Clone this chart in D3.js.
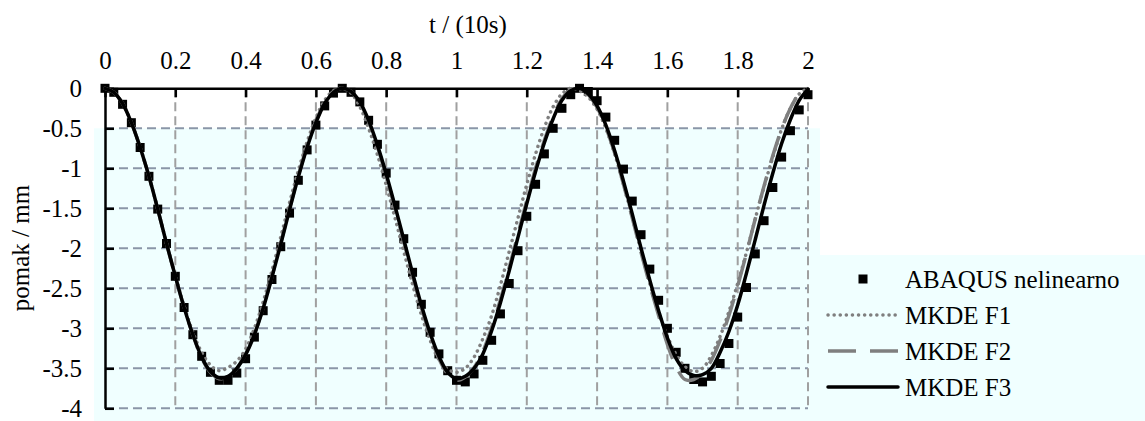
<!DOCTYPE html>
<html><head><meta charset="utf-8">
<script src="https://cdn.jsdelivr.net/npm/d3@7"></script>
<style>
body{margin:0;background:#fff}
svg{display:block}
svg text{font-family:'Liberation Serif','Times New Roman',Tinos,Times,'DejaVu Serif','Noto Serif',serif;fill:#000}
</style>
</head><body><svg id="c" width="1145" height="421"></svg>
<script>
const time = [0,0.025,0.05,0.075,0.1,0.125,0.15,0.175,0.2,0.225,0.25,0.275,0.3,0.325,0.35,0.375,0.4,0.425,0.45,0.475,
0.5,0.525,0.55,0.575,0.6,0.625,0.65,0.675,0.7,0.725,0.75,0.775,0.8,0.825,0.85,0.875,0.9,0.925,0.95,0.975,
1.0,1.025,1.05,1.075,1.1,1.125,1.15,1.175,1.2,1.225,1.25,1.275,1.3,1.325,1.35,1.375,1.4,1.425,1.45,1.475,
1.5,1.525,1.55,1.575,1.6,1.625,1.65,1.675,1.7,1.725,1.75,1.775,1.8,1.825,1.85,1.875,1.9,1.925,1.95,1.975,2.0];

const abaqus = [0,-0.05,-0.2,-0.43,-0.74,-1.1,-1.51,-1.94,-2.35,-2.74,-3.08,-3.35,-3.55,-3.65,-3.65,-3.56,-3.38,-3.11,-2.78,-2.39,
-1.98,-1.56,-1.15,-0.77,-0.46,-0.22,-0.06,0,-0.05,-0.17,-0.40,-0.70,-1.06,-1.46,-1.88,-2.30,-2.70,-3.05,-3.32,-3.53,
-3.65,-3.67,-3.57,-3.40,-3.15,-2.82,-2.44,-2.03,-1.60,-1.20,-0.82,-0.50,-0.25,-0.08,0,-0.04,-0.155,-0.36,-0.65,-1.01,
-1.41,-1.83,-2.26,-2.65,-3.0,-3.3,-3.5,-3.64,-3.67,-3.6,-3.44,-3.19,-2.86,-2.49,-2.07,-1.655,-1.24,-0.86,-0.53,-0.27,-0.08];

const mkdeF1 = [0,-0.05,-0.19,-0.43,-0.74,-1.1,-1.51,-1.94,-2.34,-2.72,-3.05,-3.3,-3.46,-3.53,-3.49,-3.41,-3.26,-3.0,-2.67,-2.28,
-1.86,-1.43,-1.03,-0.67,-0.37,-0.15,-0.03,0,-0.06,-0.23,-0.5,-0.83,-1.21,-1.62,-2.04,-2.45,-2.83,-3.15,-3.39,-3.51,
-3.55,-3.5,-3.36,-3.13,-2.84,-2.46,-2.04,-1.62,-1.2,-0.82,-0.49,-0.23,-0.07,0,-0.03,-0.11,-0.26,-0.5,-0.82,-1.2,
-1.61,-2.03,-2.44,-2.8,-3.1,-3.33,-3.48,-3.54,-3.5,-3.34,-3.1,-2.79,-2.44,-2.05,-1.63,-1.23,-0.86,-0.51,-0.25,-0.07,0];

const mkdeF2 = [0,-0.05,-0.19,-0.43,-0.74,-1.1,-1.51,-1.94,-2.35,-2.74,-3.08,-3.37,-3.55,-3.63,-3.6,-3.5,-3.32,-3.07,-2.74,-2.35,
-1.93,-1.5,-1.09,-0.72,-0.41,-0.18,-0.04,0,-0.04,-0.18,-0.42,-0.73,-1.1,-1.5,-1.92,-2.34,-2.74,-3.09,-3.38,-3.57,
-3.65,-3.61,-3.49,-3.29,-2.99,-2.64,-2.24,-1.82,-1.4,-1.0,-0.65,-0.35,-0.13,-0.02,0,-0.08,-0.24,-0.49,-0.81,-1.2,
-1.62,-2.05,-2.46,-2.84,-3.2,-3.48,-3.64,-3.64,-3.56,-3.4,-3.15,-2.84,-2.47,-2.06,-1.63,-1.22,-0.84,-0.51,-0.25,-0.07,0];

const mkdeF3 = [0,-0.05,-0.19,-0.43,-0.74,-1.1,-1.51,-1.94,-2.35,-2.74,-3.08,-3.36,-3.54,-3.62,-3.6,-3.5,-3.33,-3.08,-2.75,-2.36,
-1.95,-1.52,-1.11,-0.74,-0.43,-0.19,-0.05,0,-0.04,-0.17,-0.40,-0.71,-1.07,-1.47,-1.89,-2.31,-2.71,-3.06,-3.35,-3.55,
-3.63,-3.6,-3.5,-3.32,-3.03,-2.68,-2.28,-1.86,-1.44,-1.04,-0.68,-0.38,-0.15,-0.03,0,-0.07,-0.22,-0.46,-0.78,-1.16,
-1.57,-2.0,-2.4,-2.78,-3.12,-3.38,-3.53,-3.59,-3.58,-3.5,-3.3,-3.04,-2.71,-2.31,-1.89,-1.46,-1.06,-0.69,-0.39,-0.15,-0.01];

const xTicks = [0,0.2,0.4,0.6,0.8,1,1.2,1.4,1.6,1.8,2];
const yTicks = [0,-0.5,-1,-1.5,-2,-2.5,-3,-3.5,-4];
const seriesNames = ["ABAQUS nelinearno","MKDE F1","MKDE F2","MKDE F3"];
const xTitle = "t / (10s)";
const yTitle = "pomak / mm";

const svg = d3.select("#c");
const FS = 25;
const FF = "'Liberation Serif','Times New Roman',Tinos,Times,'DejaVu Serif','Noto Serif',serif";
const x = d3.scaleLinear().domain([0,2]).range([105,808]);
const y = d3.scaleLinear().domain([-4,0]).range([408.3,88.3]);

svg.append("rect").attr("x",0).attr("y",0).attr("width",1145).attr("height",421).attr("fill","#fff");
// plot-area fill and legend-box fill
svg.append("rect").attr("x",94).attr("y",y(-0.5)).attr("width",820-94).attr("height",421-y(-0.5)).attr("fill","#f0ffff");
svg.append("rect").attr("x",820).attr("y",255).attr("width",1145-820).attr("height",421-255).attr("fill","#f0ffff");

const g = svg.append("g");
g.selectAll(".hg").data(yTicks.filter(d=>d!==0)).join("line")
  .attr("x1",x(0)).attr("x2",x(2)).attr("y1",d=>y(d)).attr("y2",d=>y(d))
  .attr("stroke","#8a96a8").attr("stroke-width",2).attr("stroke-dasharray","9 5");
g.selectAll(".vg").data(xTicks.filter(d=>d!==0)).join("line")
  .attr("x1",d=>x(d)).attr("x2",d=>x(d)).attr("y1",y(0)).attr("y2",y(-4))
  .attr("stroke","#a0a0a0").attr("stroke-width",2).attr("stroke-dasharray","9 5");

const fmt = d => String(d);
const ax = svg.append("g").attr("transform",`translate(0,${y(0)})`)
  .call(d3.axisTop(x).tickValues(xTicks).tickFormat(fmt).tickSizeInner(-9).tickSizeOuter(0).tickPadding(19));
const ay = svg.append("g").attr("transform",`translate(${x(0)},0)`)
  .call(d3.axisLeft(y).tickValues(yTicks).tickFormat(fmt).tickSizeInner(-9).tickSizeOuter(0).tickPadding(23));
[ax,ay].forEach(a=>{
  a.attr("font-family",FF).attr("font-size",FS);
  a.select(".domain").attr("stroke","#000").attr("stroke-width",2.5);
  a.selectAll(".tick line").attr("stroke","#000").attr("stroke-width",2.5);
  a.selectAll("text").attr("font-family",FF).attr("font-size",FS).attr("fill","#000");
});

const pts = arr => time.map((t,i)=>[t,arr[i]]);
const line = d3.line().x(d=>x(d[0])).y(d=>y(d[1])).curve(d3.curveCatmullRom.alpha(0.5));

svg.append("g").selectAll("rect").data(pts(abaqus)).join("rect")
  .attr("x",d=>x(d[0])-4.5).attr("y",d=>y(d[1])-4.5).attr("width",9).attr("height",9).attr("fill","#000");

const styles = [
  {data:mkdeF1, stroke:"#7f7f7f", dash:"0.1 6", cap:"round", w:3.5},
  {data:mkdeF2, stroke:"#7f7f7f", dash:"28 14", cap:"butt", w:3.5},
  {data:mkdeF3, stroke:"#000", dash:null, cap:"round", w:3.5}
];
styles.forEach(s=>{
  svg.append("path").datum(pts(s.data)).attr("d",line).attr("fill","none")
    .attr("stroke",s.stroke).attr("stroke-width",s.w).attr("stroke-dasharray",s.dash)
    .attr("stroke-linecap",s.cap).attr("stroke-linejoin","round");
});

const lg = svg.append("g").attr("font-family",FF).attr("font-size",FS);
const ly = [279,315,351,387];
lg.append("rect").attr("x",863-4.5).attr("y",ly[0]-4.5).attr("width",9).attr("height",9).attr("fill","#000");
styles.forEach((s,i)=>{
  lg.append("line").attr("x1",828).attr("x2",898).attr("y1",ly[i+1]).attr("y2",ly[i+1])
    .attr("stroke",s.stroke).attr("stroke-width",s.w).attr("stroke-dasharray",s.dash).attr("stroke-linecap",s.cap);
});
seriesNames.forEach((n,i)=>{
  lg.append("text").attr("x",905).attr("y",ly[i]).attr("dy","0.35em").attr("font-family",FF).attr("font-size",FS).text(n);
});

svg.append("text").attr("x",468).attr("y",24).attr("dy","0.35em").attr("text-anchor","middle").attr("font-family",FF).attr("font-size",FS).text(xTitle);
svg.append("text").attr("transform","translate(20,248) rotate(-90)").attr("dy","0.35em").attr("text-anchor","middle").attr("font-family",FF).attr("font-size",FS).text(yTitle);
</script>
</body></html>
